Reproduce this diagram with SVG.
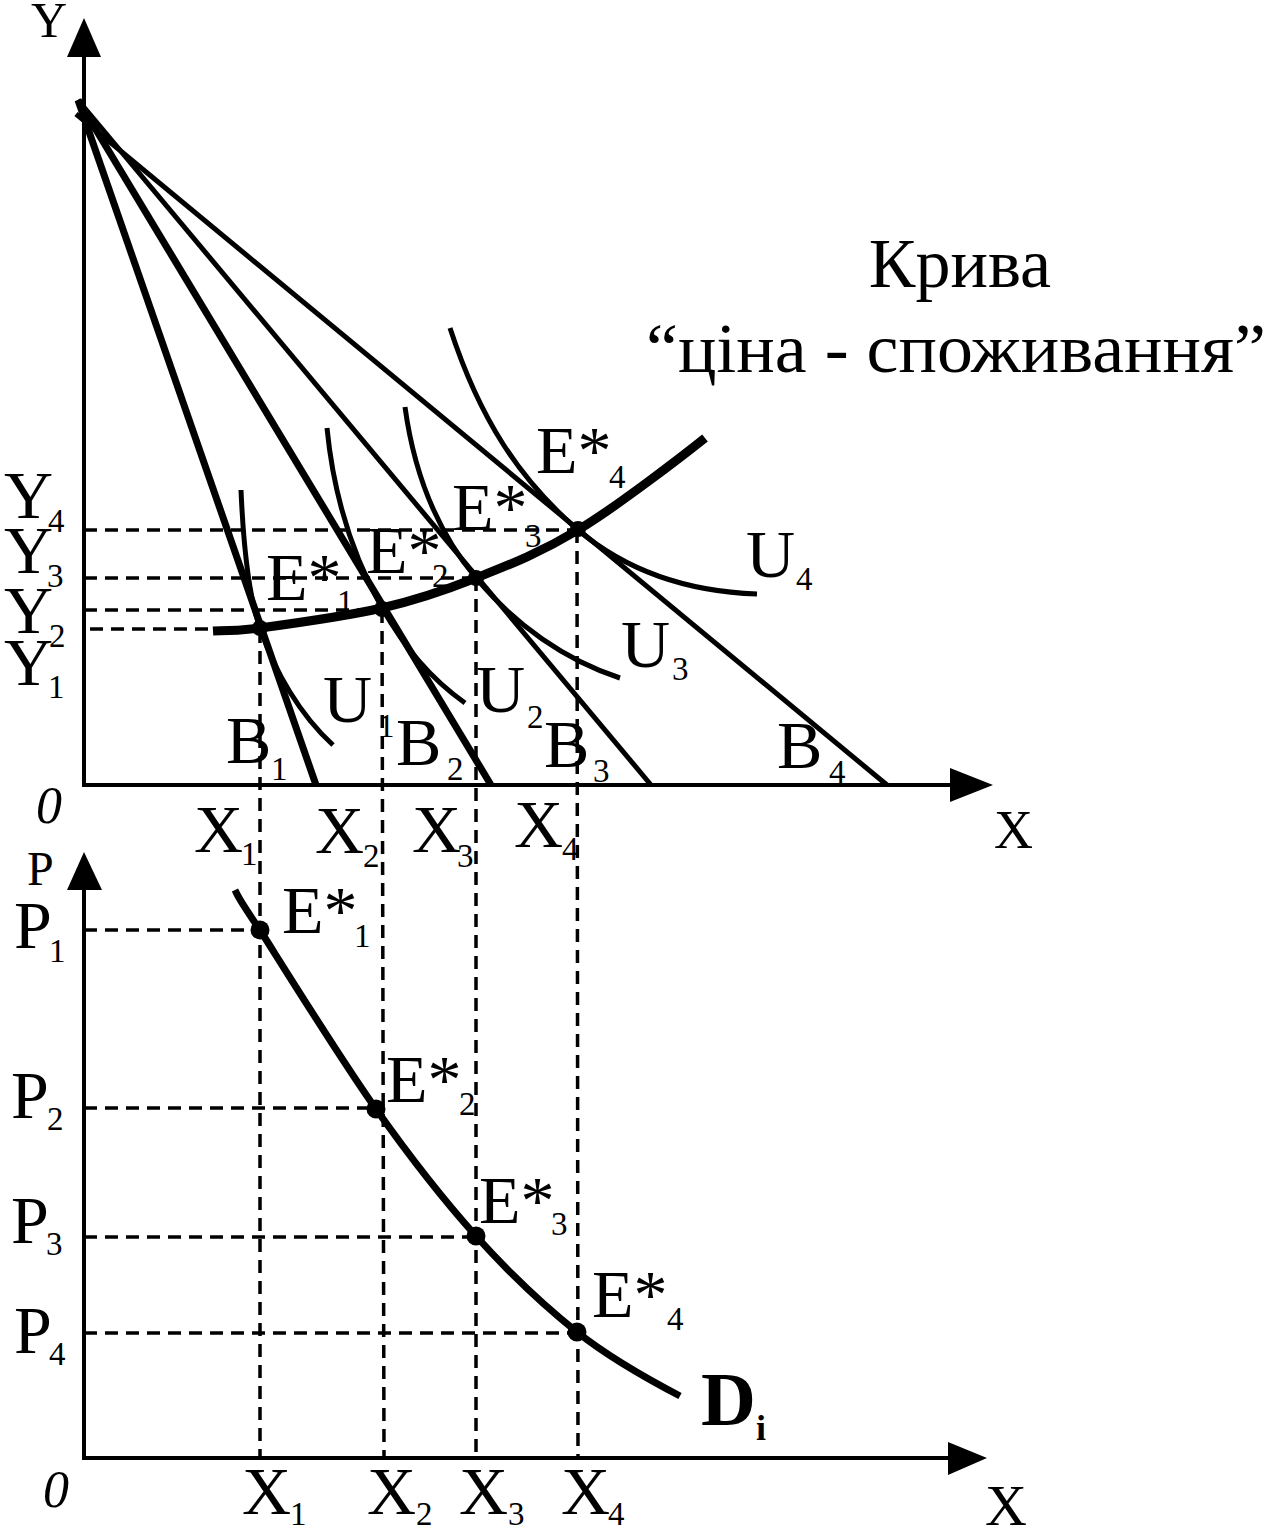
<svg xmlns="http://www.w3.org/2000/svg" width="1269" height="1528" viewBox="0 0 1269 1528">
<style>
.ln{stroke:#000;fill:none;stroke-linecap:butt}
.ax{stroke-width:4}
.bt{stroke-width:7}
.bn{stroke-width:5}
.ic{stroke-width:5}
.dash{stroke:#000;stroke-width:3.5;stroke-dasharray:13 8;fill:none}
.t{font-family:"Liberation Serif","Times New Roman",serif;font-size:68px;fill:#000}
.s{font-size:33px}
.it{font-style:italic}
</style>
<rect width="1269" height="1528" fill="#fff"/>

<g id="guides">
  <line class="dash" x1="84" y1="530" x2="578" y2="530"/>
  <line class="dash" x1="84" y1="578" x2="476" y2="578"/>
  <line class="dash" x1="84" y1="610" x2="382" y2="610"/>
  <line class="dash" x1="90" y1="629" x2="260" y2="629"/>
  <line class="dash" x1="260" y1="630" x2="260" y2="1458"/>
  <line class="dash" x1="382" y1="610" x2="384" y2="1458"/>
  <line class="dash" x1="476" y1="578" x2="476" y2="1458"/>
  <line class="dash" x1="577" y1="530" x2="578" y2="1458"/>
  <line class="dash" x1="84" y1="930" x2="260" y2="930"/>
  <line class="dash" x1="84" y1="1108" x2="376" y2="1108"/>
  <line class="dash" x1="84" y1="1237" x2="476" y2="1237"/>
  <line class="dash" x1="84" y1="1333" x2="577" y2="1333"/>
</g>

<g id="axes">
  <line class="ln ax" x1="84" y1="787" x2="84" y2="52"/>
  <polygon points="84,18 101,57 67,57"/>
  <line class="ln ax" x1="82" y1="785" x2="955" y2="785"/>
  <polygon points="993,785 950,768 950,802"/>
  <line class="ln ax" x1="84" y1="1460" x2="84" y2="886"/>
  <polygon points="84,852 102,890 67,890"/>
  <line class="ln ax" x1="82" y1="1458" x2="952" y2="1458"/>
  <polygon points="987,1458 948,1442 948,1475"/>
</g>

<g id="budget-lines">
  <line class="ln bt" x1="78" y1="100" x2="316" y2="785"/>
  <line class="ln bt" x1="78" y1="100" x2="491" y2="785"/>
  <line class="ln bn" x1="78" y1="100" x2="651" y2="785"/>
  <line class="ln bn" x1="76" y1="114" x2="887" y2="785"/>
</g>

<g id="indifference-curves">
  <path class="ln ic" d="M241,490 C244,560 250,600 260,628 C275,672 300,715 333,745"/>
  <path class="ln ic" d="M327,428 C334,500 355,560 382,608 C405,648 430,678 465,703"/>
  <path class="ln ic" d="M405,407 C415,480 440,535 476,578 C515,625 565,660 620,678"/>
  <path class="ln ic" d="M450,328 C480,420 520,480 578,530 C635,578 700,592 757,594"/>
</g>

<g id="price-consumption-curve">
  <path class="ln" stroke-width="9" d="M213,631 C221,630.5 232,631.8 260,628 C288,624.2 346,616.3 382,608 C418,599.7 443.3,591 476,578 C508.7,565 539.8,553 578,530 C616.2,507 683.8,455 705,438"/>
  <circle cx="260" cy="628" r="8"/>
  <circle cx="382" cy="609" r="8"/>
  <circle cx="476" cy="578" r="8"/>
  <circle cx="578" cy="529" r="8"/>
</g>

<g id="demand-curve">
  <path class="ln" stroke-width="7" d="M235,890 C238,896 236,895 260,930 C283.8,967.5 340,1058.2 376,1109 C412,1159.8 442.5,1198.8 476,1236 C509.5,1273.2 543,1305 577,1332 C611,1359 662.8,1387 680,1396"/>
  <circle cx="260" cy="930" r="9.5"/>
  <circle cx="376" cy="1109" r="9.5"/>
  <circle cx="476" cy="1236" r="9.5"/>
  <circle cx="577" cy="1332" r="9.5"/>
</g>

<g id="labels-top" class="t">
  <text x="31" y="37" style="font-size:50px">Y</text>
  <text x="4" y="518">Y</text><text class="s" x="48" y="532">4</text>
  <text x="4" y="573">Y</text><text class="s" x="47" y="587">3</text>
  <text x="4" y="633">Y</text><text class="s" x="49" y="647">2</text>
  <text x="4" y="685">Y</text><text class="s" x="48" y="698">1</text>
  <text class="it" x="36" y="823" style="font-size:52px">0</text>
  <text x="194" y="852">X</text><text class="s" x="241" y="865">1</text>
  <text x="315" y="853">X</text><text class="s" x="363" y="867">2</text>
  <text x="412" y="852">X</text><text class="s" x="457" y="867">3</text>
  <text x="514" y="847">X</text><text class="s" x="562" y="860">4</text>
  <text x="994" y="848" style="font-size:54px">X</text>
  <text x="536" y="473">E*</text><text class="s" x="609" y="488">4</text>
  <text x="452" y="530">E*</text><text class="s" x="525" y="547">3</text>
  <text x="366" y="573">E*</text><text class="s" x="432" y="587">2</text>
  <text x="266" y="600">E*</text><text class="s" x="337" y="613">1</text>
  <text x="323" y="722">U</text><text class="s" x="378" y="737">1</text>
  <text x="476" y="712">U</text><text class="s" x="527" y="728">2</text>
  <text x="621" y="667">U</text><text class="s" x="672" y="680">3</text>
  <text x="746" y="577">U</text><text class="s" x="796" y="590">4</text>
  <text x="226" y="763">B</text><text class="s" x="271" y="780">1</text>
  <text x="396" y="765">B</text><text class="s" x="447" y="780">2</text>
  <text x="544" y="767">B</text><text class="s" x="593" y="782">3</text>
  <text x="777" y="768">B</text><text class="s" x="829" y="783">4</text>
  <text x="960" y="287" text-anchor="middle" style="font-size:70px">Крива</text>
  <text x="646" y="372" textLength="620" lengthAdjust="spacingAndGlyphs" style="font-size:70px">“ціна - споживання”</text>
</g>

<g id="labels-bottom" class="t">
  <text x="27" y="885" style="font-size:48px">P</text>
  <text x="14" y="948">P</text><text class="s" x="49" y="962">1</text>
  <text x="11" y="1118">P</text><text class="s" x="47" y="1130">2</text>
  <text x="11" y="1243">P</text><text class="s" x="46" y="1255">3</text>
  <text x="14" y="1353">P</text><text class="s" x="49" y="1365">4</text>
  <text x="282" y="933">E*</text><text class="s" x="354" y="947">1</text>
  <text x="386" y="1102">E*</text><text class="s" x="459" y="1115">2</text>
  <text x="479" y="1223">E*</text><text class="s" x="551" y="1235">3</text>
  <text x="592" y="1317">E*</text><text class="s" x="667" y="1330">4</text>
  <text class="it" x="43" y="1507" style="font-size:52px">0</text>
  <text x="242" y="1514">X</text><text class="s" x="290" y="1525">1</text>
  <text x="367" y="1514">X</text><text class="s" x="416" y="1525">2</text>
  <text x="459" y="1514">X</text><text class="s" x="508" y="1525">3</text>
  <text x="561" y="1514">X</text><text class="s" x="608" y="1525">4</text>
  <text x="985" y="1525" style="font-size:58px">X</text>
  <text x="701" y="1425" style="font-size:76px;font-weight:bold">D</text>
  <text x="756" y="1440" style="font-size:36px;font-weight:bold">i</text>
</g>
</svg>
